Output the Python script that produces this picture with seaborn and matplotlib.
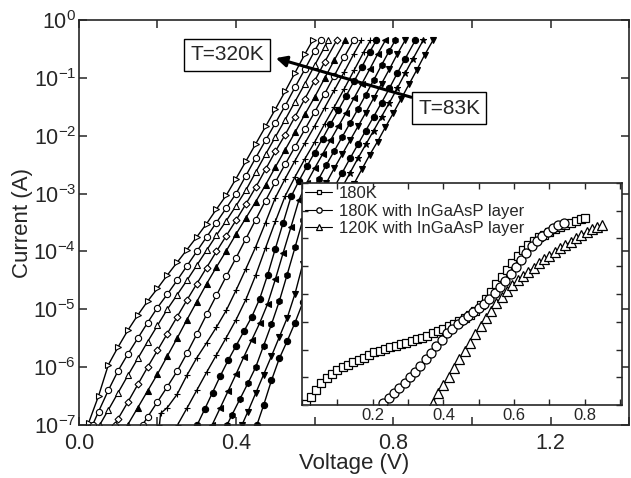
import numpy as np
import matplotlib
matplotlib.use("Agg")
import matplotlib.pyplot as plt
import seaborn as sns
from matplotlib.ticker import MultipleLocator, NullLocator, LogLocator, NullFormatter, FixedLocator, FormatStrFormatter

# ---- main I-V family, warmest (left, 320K) to coldest (right, 83K) ----
# voltage steps and log10(current / A)
v_c01 = [0.025, 0.05, 0.075, 0.1, 0.125, 0.15, 0.175, 0.2, 0.225, 0.25, 0.275, 0.3, 0.325, 0.35, 0.375,
         0.4, 0.425, 0.45, 0.475, 0.5, 0.525, 0.55, 0.575, 0.595]
i_c01 = [-6.96, -6.5, -5.96, -5.65, -5.36, -5.10, -4.86, -4.64, -4.41, -4.19, -3.97, -3.75, -3.52, -3.27, -3.03,
         -2.74, -2.44, -2.14, -1.84, -1.54, -1.23, -0.91, -0.59, -0.35]
v_c02 = [0.035, 0.05, 0.075, 0.1, 0.125, 0.15, 0.175, 0.2, 0.225, 0.25, 0.275, 0.3, 0.325, 0.35, 0.375,
         0.4, 0.425, 0.45, 0.475, 0.5, 0.525, 0.55, 0.575, 0.6, 0.615]
i_c02 = [-7.0, -6.77, -6.40, -6.06, -5.77, -5.5, -5.23, -4.97, -4.74, -4.5, -4.25, -4.0, -3.75, -3.5, -3.25,
         -3.0, -2.69, -2.38, -2.08, -1.78, -1.48, -1.16, -0.85, -0.53, -0.35]
v_c03 = [0.053, 0.075, 0.1, 0.125, 0.15, 0.175, 0.2, 0.225, 0.25, 0.275, 0.3, 0.325, 0.35, 0.375, 0.4,
         0.425, 0.45, 0.475, 0.5, 0.525, 0.55, 0.575, 0.6, 0.625, 0.635]
i_c03 = [-7.0, -6.74, -6.44, -6.14, -5.85, -5.56, -5.28, -5.0, -4.75, -4.5, -4.24, -3.98, -3.72, -3.47, -3.21,
         -2.94, -2.63, -2.32, -2.02, -1.72, -1.41, -1.10, -0.78, -0.47, -0.35]
v_c04 = [0.091, 0.1, 0.125, 0.15, 0.175, 0.2, 0.225, 0.25, 0.275, 0.3, 0.325, 0.35, 0.375, 0.4, 0.425,
         0.45, 0.475, 0.5, 0.525, 0.55, 0.575, 0.6, 0.625, 0.656]
i_c04 = [-7.0, -6.89, -6.60, -6.30, -6.0, -5.71, -5.42, -5.13, -4.84, -4.56, -4.28, -4.0, -3.73, -3.46, -3.18,
         -2.89, -2.58, -2.27, -1.98, -1.67, -1.36, -1.05, -0.73, -0.35]
v_c05 = [0.124, 0.15, 0.175, 0.2, 0.225, 0.25, 0.275, 0.3, 0.325, 0.35, 0.375, 0.4, 0.425, 0.45, 0.475,
         0.5, 0.525, 0.55, 0.575, 0.6, 0.625, 0.65, 0.678]
i_c05 = [-7.0, -6.70, -6.41, -6.12, -5.81, -5.5, -5.18, -4.87, -4.56, -4.27, -3.99, -3.70, -3.42, -3.14, -2.85,
         -2.54, -2.24, -1.94, -1.63, -1.33, -1.01, -0.69, -0.35]
v_c06 = [0.162, 0.175, 0.2, 0.225, 0.25, 0.275, 0.3, 0.325, 0.35, 0.375, 0.4, 0.425, 0.45, 0.475, 0.5,
         0.525, 0.55, 0.575, 0.6, 0.625, 0.65, 0.675, 0.699]
i_c06 = [-7.0, -6.86, -6.60, -6.34, -6.07, -5.76, -5.43, -5.09, -4.76, -4.43, -4.11, -3.78, -3.45, -3.12, -2.80,
         -2.49, -2.19, -1.89, -1.59, -1.28, -0.96, -0.64, -0.35]
v_c07 = [0.205, 0.208, 0.225, 0.25, 0.275, 0.3, 0.325, 0.35, 0.375, 0.4, 0.425, 0.45, 0.475, 0.5, 0.525,
         0.55, 0.575, 0.6, 0.625, 0.65, 0.675, 0.7, 0.719]
i_c07 = [-7.0, -6.8, -6.7, -6.47, -6.14, -5.84, -5.58, -5.31, -5.02, -4.67, -4.30, -3.92, -3.5, -3.07, -2.74,
         -2.43, -2.13, -1.83, -1.52, -1.21, -0.90, -0.58, -0.35]
v_c08 = [0.251, 0.275, 0.3, 0.325, 0.35, 0.375, 0.4, 0.425, 0.45, 0.475, 0.5, 0.525, 0.55, 0.575, 0.6,
         0.625, 0.65, 0.675, 0.7, 0.725, 0.742]
i_c08 = [-7.0, -6.71, -6.40, -6.09, -5.79, -5.49, -5.18, -4.83, -4.41, -3.94, -3.48, -3.04, -2.71, -2.40, -2.11,
         -1.80, -1.5, -1.19, -0.87, -0.55, -0.35]
v_c09 = [0.301, 0.32, 0.34, 0.36, 0.38, 0.40, 0.42, 0.44, 0.46, 0.48, 0.50, 0.52, 0.54, 0.56, 0.58,
         0.60, 0.62, 0.64, 0.66, 0.68, 0.70, 0.72, 0.74, 0.757]
i_c09 = [-7.0, -6.73, -6.44, -6.15, -5.88, -5.63, -5.38, -5.13, -4.82, -4.41, -3.95, -3.5, -3.05, -2.78, -2.53,
         -2.29, -2.05, -1.80, -1.56, -1.31, -1.06, -0.81, -0.55, -0.35]
v_c10 = [0.339, 0.36, 0.38, 0.40, 0.42, 0.44, 0.46, 0.48, 0.50, 0.52, 0.54, 0.56, 0.58, 0.60, 0.62,
         0.64, 0.66, 0.68, 0.70, 0.72, 0.74, 0.76, 0.78]
i_c10 = [-7.0, -6.70, -6.41, -6.12, -5.82, -5.53, -5.24, -4.91, -4.48, -4.02, -3.57, -3.11, -2.81, -2.56, -2.32,
         -2.08, -1.84, -1.60, -1.35, -1.10, -0.85, -0.59, -0.35]
v_c11 = [0.377, 0.39, 0.41, 0.43, 0.45, 0.47, 0.49, 0.51, 0.53, 0.55, 0.57, 0.59, 0.61, 0.63, 0.65,
         0.67, 0.69, 0.71, 0.73, 0.75, 0.77, 0.79, 0.805]
i_c11 = [-7.0, -6.82, -6.55, -6.28, -6.0, -5.63, -5.26, -4.86, -4.40, -3.93, -3.45, -3.0, -2.75, -2.5, -2.26,
         -2.02, -1.78, -1.54, -1.29, -1.04, -0.78, -0.53, -0.35]
v_c12 = [0.415, 0.43, 0.45, 0.47, 0.49, 0.51, 0.53, 0.55, 0.57, 0.59, 0.61, 0.63, 0.65, 0.67, 0.69,
         0.71, 0.73, 0.75, 0.77, 0.79, 0.81, 0.83]
i_c12 = [-7.0, -6.77, -6.45, -6.13, -5.81, -5.48, -5.15, -4.73, -4.21, -3.67, -3.13, -2.81, -2.56, -2.32, -2.08,
         -1.84, -1.60, -1.35, -1.10, -0.85, -0.59, -0.35]
v_c13 = [0.453, 0.47, 0.49, 0.51, 0.53, 0.55, 0.57, 0.59, 0.61, 0.63, 0.65, 0.67, 0.69, 0.71, 0.73,
         0.75, 0.77, 0.79, 0.81, 0.83, 0.856]
i_c13 = [-7.0, -6.66, -6.23, -5.85, -5.55, -5.23, -4.88, -4.36, -3.82, -3.29, -2.89, -2.64, -2.39, -2.15, -1.91,
         -1.67, -1.43, -1.18, -0.92, -0.67, -0.35]
# the two coldest curves start behind the inset
v_c14 = [0.575, 0.59, 0.61, 0.63, 0.65, 0.67, 0.69, 0.71, 0.73, 0.75, 0.77, 0.79, 0.81, 0.83, 0.85, 0.876]
i_c14 = [-6.0, -5.5, -4.83, -4.12, -3.39, -2.89, -2.64, -2.39, -2.15, -1.91, -1.67, -1.43, -1.18, -0.92, -0.67, -0.35]
v_c15 = [0.60, 0.62, 0.64, 0.66, 0.68, 0.70, 0.72, 0.74, 0.76, 0.78, 0.80, 0.82, 0.84, 0.86, 0.88, 0.901]
i_c15 = [-6.0, -5.33, -4.67, -4.0, -3.23, -2.83, -2.58, -2.33, -2.10, -1.85, -1.61, -1.36, -1.11, -0.86, -0.60, -0.35]

# ---- inset data (log10 current) ----
ins_sq_v = [0.010, 0.025, 0.040, 0.055, 0.070, 0.085, 0.100, 0.115, 0.130, 0.145, 0.160, 0.175, 0.190, 0.205,
            0.220, 0.235, 0.250, 0.265, 0.280, 0.295, 0.310, 0.325, 0.340, 0.355, 0.370, 0.385, 0.400, 0.415,
            0.430, 0.445, 0.460, 0.475, 0.490, 0.505, 0.520, 0.535, 0.550, 0.565, 0.580, 0.595, 0.610, 0.625,
            0.640, 0.655, 0.670, 0.685, 0.700, 0.715, 0.730, 0.745, 0.760, 0.775, 0.790, 0.800]
ins_sq_logi = [-9.95, -9.70, -9.45, -9.20, -9.02, -8.88, -8.75, -8.64, -8.55, -8.46, -8.38, -8.29, -8.20, -8.10,
               -8.04, -7.97, -7.91, -7.86, -7.80, -7.75, -7.70, -7.63, -7.57, -7.50, -7.42, -7.34, -7.25, -7.17,
               -7.08, -6.98, -6.88, -6.76, -6.60, -6.40, -6.18, -5.92, -5.65, -5.38, -5.12, -4.87, -4.62, -4.42,
               -4.24, -4.08, -3.96, -3.86, -3.76, -3.66, -3.58, -3.50, -3.43, -3.37, -3.30, -3.26]
ins_ci_v = [0.230, 0.245, 0.260, 0.275, 0.290, 0.305, 0.320, 0.335, 0.350, 0.365, 0.380, 0.395, 0.410, 0.425,
            0.440, 0.455, 0.470, 0.485, 0.500, 0.515, 0.530, 0.545, 0.560, 0.575, 0.590, 0.605, 0.620, 0.635,
            0.650, 0.665, 0.680, 0.695, 0.710, 0.725, 0.740]
ins_ci_logi = [-9.93, -9.75, -9.58, -9.40, -9.20, -9.00, -8.80, -8.58, -8.35, -8.12, -7.88, -7.65, -7.42, -7.25,
               -7.08, -6.92, -6.78, -6.64, -6.50, -6.35, -6.18, -5.98, -5.75, -5.52, -5.28, -5.04, -4.78, -4.52,
               -4.28, -4.08, -3.92, -3.78, -3.64, -3.52, -3.44]
ins_tr_v = [0.370, 0.385, 0.400, 0.415, 0.430, 0.445, 0.460, 0.475, 0.490, 0.505, 0.520, 0.535, 0.550, 0.565,
            0.580, 0.595, 0.610, 0.625, 0.640, 0.655, 0.670, 0.685, 0.700, 0.715, 0.730, 0.745, 0.760, 0.775,
            0.790, 0.805, 0.820, 0.835, 0.848]
ins_tr_logi = [-9.93, -9.58, -9.28, -8.98, -8.67, -8.35, -8.05, -7.75, -7.45, -7.15, -6.88, -6.60, -6.34, -6.10,
               -5.88, -5.68, -5.50, -5.35, -5.20, -5.05, -4.90, -4.75, -4.62, -4.50, -4.36, -4.23, -4.12, -4.00,
               -3.88, -3.76, -3.65, -3.57, -3.51]
ins_labels = ["180K", "180K with InGaAsP layer", "120K with InGaAsP layer"]

sns.set_theme(style="ticks")
plt.rcParams['font.family'] = ['Liberation Sans', 'DejaVu Sans']
plt.rcParams['axes.linewidth'] = 1.2

fig = plt.figure(figsize=(6.31, 4.78), dpi=100)
ax = fig.add_axes([0.125, 0.111, 0.872, 0.847])
ax.set_yscale('log')

curves = [
    (v_c01, i_c01, '>', False), (v_c02, i_c02, 'o', False), (v_c03, i_c03, '^', False),
    (v_c04, i_c04, 'D', False), (v_c05, i_c05, '^', True), (v_c06, i_c06, 'o', False),
    (v_c07, i_c07, '+', True), (v_c08, i_c08, '+', True), (v_c09, i_c09, 'o', True),
    (v_c10, i_c10, '<', True), (v_c11, i_c11, 'h', True), (v_c12, i_c12, 'v', True),
    (v_c13, i_c13, 'o', True), (v_c14, i_c14, '*', True), (v_c15, i_c15, 'v', True),
]
for v, li, m, filled in curves:
    sns.lineplot(x=v, y=10 ** np.array(li), ax=ax, sort=False, estimator=None, color='black', lw=1.0,
                 marker=m, markersize=4.5 if m != 'D' else 3.5, markeredgewidth=0.8, markeredgecolor='black',
                 markerfacecolor='black' if filled else 'white')

ax.set_xlim(0, 1.4)
ax.set_ylim(1e-7, 1)
ax.xaxis.set_major_locator(MultipleLocator(0.4))
ax.xaxis.set_minor_locator(MultipleLocator(0.2))
ax.yaxis.set_major_locator(LogLocator(base=10, numticks=10))
ax.yaxis.set_minor_locator(NullLocator())
ax.tick_params(which='both', direction='in', top=True, right=True, length=6, width=1.1,
               labelsize=15.5)
ax.tick_params(axis='y', pad=2)
ax.tick_params(axis='x', pad=6)
ax.xaxis.set_major_formatter(FormatStrFormatter('%.1f'))
ax.set_xlabel("Voltage (V)", fontsize=16, labelpad=-1)
ax.set_ylabel("Current (A)", fontsize=16, labelpad=0)

box = dict(boxstyle='square,pad=0.3', fc='white', ec='black', lw=1.0)
ax.text(0.377, 0.25, "T=320K", ha='center', va='center', fontsize=15, bbox=box, zorder=5)
ax.annotate("T=83K", xy=(0.501, 0.22), xytext=(0.942, 0.030), ha='center', va='center', fontsize=15,
            bbox=box, zorder=5,
            arrowprops=dict(arrowstyle='-|>', color='black', lw=2.2, mutation_scale=16, shrinkA=0, shrinkB=0))

# ---- inset ----
ins = fig.add_axes([0.4786, 0.1527, 0.507, 0.4645])
ins.set_facecolor('white')
ins.set_yscale('log')
ins_series = [(ins_sq_v, ins_sq_logi, 's', 6.0), (ins_ci_v, ins_ci_logi, 'o', 6.5), (ins_tr_v, ins_tr_logi, '^', 6.5)]
for (v, li, m, ms), lab in zip(ins_series, ins_labels):
    sns.lineplot(x=v, y=10 ** np.array(li), ax=ins, sort=False, estimator=None, color='black', lw=0.8,
                 marker=m, markersize=ms, markeredgewidth=0.9, markeredgecolor='black',
                 markerfacecolor='white', label=lab)
ins.set_xlim(0, 0.905)
ins.set_ylim(1e-10, 1e-2)
ins.xaxis.set_major_locator(FixedLocator([0.2, 0.4, 0.6, 0.8]))
ins.xaxis.set_minor_locator(MultipleLocator(0.1))
ins.yaxis.set_major_locator(LogLocator(base=10, numticks=12))
ins.yaxis.set_minor_locator(NullLocator())
ins.yaxis.set_major_formatter(NullFormatter())
ins.tick_params(which='both', direction='in', top=True, right=True, length=4, width=1.0,
                labelsize=12, pad=2)
ins.set_xlabel("")
ins.set_ylabel("")
ins.legend(loc='upper left', frameon=False, fontsize=12, handlelength=1.6, handletextpad=0.4,
           labelspacing=0.15, borderaxespad=0.1, borderpad=0.1, markerscale=0.6)

fig.savefig("out.png", dpi=100)
